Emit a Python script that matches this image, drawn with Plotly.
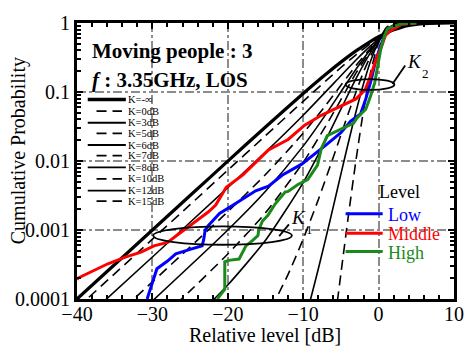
import plotly.graph_objects as go

# ---------------- data ----------------
K_LABELS = ["K=-∞", "K=0dB", "K=3dB", "K=5dB", "K=6dB", "K=7dB", "K=8dB", "K=10dB", "K=12dB", "K=15dB"]

x_k_inf = [-40, -35, -30, -25, -20, -15, -10, -7, -5, -3, -1, 0, 1, 2, 3, 4, 5, 6, 8, 10]
p_k_inf = [1e-4, 3.162e-4, 9.995e-4, 3.157e-3, 9.95e-3, 0.03113, 0.09516, 0.1809, 0.2711, 0.3942,
           0.548, 0.6321, 0.716, 0.795, 0.864, 0.919, 0.9577, 0.9813, 0.9982, 0.99995]

x_k0 = [-40, -30, -25, -20, -15, -10, -5, -3, -1, 0, 2, 4, 6, 8, 10]
p_k0 = [7.36e-5, 7.36e-4, 2.327e-3, 7.36e-3, 0.02325, 0.0733, 0.2264, 0.3465, 0.5103, 0.6057,
        0.7964, 0.9352, 0.991, 0.9997, 0.99999]

x_k3 = [-40, -30, -20, -15, -10, -5, -3, -1, 0, 2, 4, 6, 8]
p_k3 = [4.06e-5, 4.06e-4, 4.12e-3, 0.01343, 0.0461, 0.1718, 0.2911, 0.4735, 0.5852, 0.8102,
        0.9557, 0.9969, 0.99998]

x_k5 = [-40, -30, -20, -15, -10, -7, -5, -3, -1, 0, 2, 4, 6, 8]
p_k5 = [1.762e-5, 1.77e-4, 1.841e-3, 6.36e-3, 0.02528, 0.06448, 0.12495, 0.24154, 0.44196,
        0.57131, 0.8287, 0.9721, 0.999, 0.999997]

x_k6 = [-35, -30, -20, -15, -10, -7, -5, -3, -1, 0, 2, 4, 6]
p_k6 = [2.95e-5, 9.37e-5, 9.99e-4, 3.642e-3, 0.01643, 0.04733, 0.10082, 0.21414, 0.42456,
        0.56532, 0.8416, 0.978, 0.9995]

x_k7 = [-30, -25, -20, -15, -10, -7, -5, -3, -1, 0, 2, 4, 6]
p_k7 = [4.05e-5, 1.313e-4, 4.49e-4, 1.773e-3, 9.566e-3, 0.0323, 0.0775, 0.18792, 0.40583,
        0.55969, 0.853, 0.9851, 0.99987]

x_k8 = [-25, -20, -15, -10, -7, -5, -3, -1, 0, 2, 4, 6]
p_k8 = [4.46e-5, 1.596e-4, 7.09e-4, 4.865e-3, 0.02017, 0.05637, 0.15639, 0.38522, 0.55275,
        0.871, 0.991, 0.99997]

x_k10 = [-20, -15, -12, -10, -8, -6, -4, -2, -1, 0, 1, 2, 3, 4, 5]
p_k10 = [7.8e-6, 5.17e-5, 2.28e-4, 7.40e-4, 2.747e-3, 0.01143, 0.04958, 0.1955, 0.343, 0.542,
         0.7514, 0.9068, 0.9794, 0.9978, 0.99995]

x_k12 = [-10, -9, -8, -7, -6, -5, -4, -3, -2, -1, 0, 1, 2, 3, 4]
p_k12 = [3.98e-5, 1.015e-4, 2.72e-4, 7.62e-4, 2.2e-3, 6.44e-3, 0.0187, 0.0518, 0.132, 0.293,
         0.534, 0.7867, 0.944, 0.9934, 0.99975]

x_k15 = [-6, -5, -4, -3, -2, -1, 0, 1, 2, 3, 4]
p_k15 = [3.2e-5, 2.33e-4, 1.63e-3, 0.0103, 0.054, 0.207, 0.5247, 0.8527, 0.9844, 0.99966, 0.999999]

# measured curves
x_low = [-30.7, -29.4, -28.0, -26.9, -25.0, -23.4, -23.2, -23.0, -22.6, -21.1, -19.6, -18.5,
         -16.3, -14.6, -12.8, -10.2, -8.5, -7.0, -5.0, -4.2, -3.7, -2.4, -1.7, -1.0, -0.4,
         0.3, 0.9, 1.6, 3.0, 5.0]
p_low = [1.0e-4, 2.75e-4, 3.55e-4, 4.5e-4, 5.25e-4, 5.9e-4, 7.24e-4, 1.0e-3, 1.15e-3, 1.74e-3,
         2.19e-3, 2.63e-3, 3.7e-3, 4.3e-3, 6.2e-3, 9.0e-3, 0.0125, 0.017, 0.0257, 0.0324, 0.038,
         0.0479, 0.0794, 0.148, 0.282, 0.479, 0.69, 0.81, 0.955, 1.0]

x_mid = [-40, -39.9, -35.9, -33.5, -31.5, -29.8, -28.0, -26.5, -24.6, -23.5, -22.6, -21.6,
         -20.2, -18.0, -16.3, -14.6, -12.0, -9.8, -7.6, -5.9, -4.2, -3.0, -1.8, -1.0, -0.4,
         0.3, 0.9, 1.6, 3.0, 5.0]
p_mid = [1.9e-4, 2.0e-4, 3.24e-4, 4.07e-4, 4.79e-4, 5.9e-4, 6.6e-4, 8.7e-4, 1.26e-3, 1.5e-3,
         1.82e-3, 2.3e-3, 4.17e-3, 6.3e-3, 9.5e-3, 0.0145, 0.0205, 0.0331, 0.046, 0.0562, 0.07,
         0.0794, 0.107, 0.178, 0.282, 0.427, 0.66, 0.776, 0.955, 1.0]

x_high = [-21.4, -20.4, -20.4, -19.9, -18.5, -18.0, -17.6, -16.7, -16.0, -15.9, -15.4, -14.7,
          -13.7, -12.4, -12.0, -10.7, -9.4, -8.1, -7.6, -6.8, -5.0, -3.3, -2.9, -1.7, -1.1,
          -0.5, -0.1, 0.3, 0.8, 1.2, 3.0, 5.0]
p_high = [1.0e-4, 1.38e-4, 3.47e-4, 3.63e-4, 3.8e-4, 4.79e-4, 5.89e-4, 7.08e-4, 8.32e-4, 1.0e-3,
          1.35e-3, 1.62e-3, 2.4e-3, 3.55e-3, 3.63e-3, 4.57e-3, 5.37e-3, 8.7e-3, 0.0151, 0.0234,
          0.0288, 0.0355, 0.0417, 0.0562, 0.0851, 0.138, 0.245, 0.427, 0.66, 0.83, 0.977, 1.0]

LEVEL_NAMES = ["Low", "Middle", "High"]
X_TICKS = [-40, -30, -20, -10, 0, 10]
Y_TICKS = [1e-4, 1e-3, 1e-2, 1e-1, 1]
Y_TICKTEXT = ["0.0001", "0.001", "0.01", "0.1", "1"]

# ---------------- figure ----------------
FONT = "Liberation Serif"
fig = go.Figure()

theory = [(x_k_inf, p_k_inf), (x_k0, p_k0), (x_k3, p_k3), (x_k5, p_k5), (x_k6, p_k6),
          (x_k7, p_k7), (x_k8, p_k8), (x_k10, p_k10), (x_k12, p_k12), (x_k15, p_k15)]
DASH = "10px,6px"
for i, ((xs, ps), lab) in enumerate(zip(theory, K_LABELS)):
    width = 3.2 if i == 0 else 1.6
    dash = "solid" if i % 2 == 0 else DASH
    fig.add_trace(go.Scatter(x=xs, y=ps, mode="lines", name=lab, showlegend=False,
                             line=dict(color="black", width=width, dash=dash, shape="spline",
                                       smoothing=0.6)))

COLORS = ["#0000ff", "#ff0000", "#1a8a1a"]
for xs, ps, nm, c in zip([x_low, x_mid, x_high], [p_low, p_mid, p_high], LEVEL_NAMES, COLORS):
    fig.add_trace(go.Scatter(x=xs, y=ps, mode="lines", name=nm, showlegend=False,
                             line=dict(color=c, width=3)))

# helpers for paper coordinates (layout only)
L, R, T, B = 77, 463, 14, 299
def px(x):
    return (x - L) / (R - L)
def py(y):
    return (B - y) / (B - T)

shapes = []
annotations = []

def note(x, y, text, size, color="black", xanchor="center", **kw):
    annotations.append(dict(xref="paper", yref="paper", x=px(x), y=py(y), text=text,
                            showarrow=False, xanchor=xanchor, yanchor="middle", borderpad=0,
                            font=dict(family=FONT, size=size, color=color), **kw))

# K legend (drawn manually)
leg_y = [93, 105, 117, 128, 140, 151, 163, 175, 187, 198]
for i, (lab, yy) in enumerate(zip(K_LABELS, leg_y)):
    if i % 2 == 0:
        x0, x1, dash = 88, 127, "solid"
    else:
        x0, x1, dash = 97, 123, DASH
    w = 3.5 if i == 0 else 1.8
    shapes.append(dict(type="line", xref="paper", yref="paper", x0=px(x0), x1=px(x1),
                       y0=py(yy), y1=py(yy), line=dict(color="black", width=w, dash=dash)))
    note(128, yy, lab, 10.5, xanchor="left")

# Level legend
note(385, 189, "Level", 18, xanchor="left")
for nm, c, yy in zip(LEVEL_NAMES, COLORS, [211, 231, 250]):
    shapes.append(dict(type="line", xref="paper", yref="paper", x0=px(352), x1=px(390),
                       y0=py(yy), y1=py(yy), line=dict(color=c, width=3)))
    note(394, yy + 1, nm, 18, color=c, xanchor="left")

# title block
note(91, 43, "<b>Moving people : 3</b>", 21, xanchor="left")
note(91, 73, "<b><i>f</i> : 3.35GHz, LOS</b>", 21, xanchor="left")

# K2 marker
shapes.append(dict(type="circle", xref="paper", yref="paper", x0=px(352), x1=px(402),
                   y0=py(83), y1=py(72), line=dict(color="black", width=1.8)))
shapes.append(dict(type="line", xref="paper", yref="paper", x0=px(400), y0=py(77),
                   x1=px(413), y1=py(58), line=dict(color="black", width=1.8)))
note(423, 54, "<i>K</i>", 19)
note(434, 66, "2", 13)

# K1 marker
shapes.append(dict(type="circle", xref="paper", yref="paper", x0=px(155), x1=px(297),
                   y0=py(243), y1=py(224), line=dict(color="black", width=1.8)))
shapes.append(dict(type="line", xref="paper", yref="paper", x0=px(284), y0=py(234),
                   x1=px(294), y1=py(222), line=dict(color="black", width=1.8)))
note(304, 215, "<i>K</i>", 19)
note(315, 227, "1", 13)

# axis titles
note(269, 336, "Relative level [dB]", 20)
note(17, 146, "Cumulative Probability", 20, textangle=-90)

minor_y = [m * 10 ** e for e in range(-4, 0) for m in range(2, 10)]

fig.update_layout(
    width=476, height=349,
    margin=dict(l=L, r=476 - R, t=T, b=349 - B),
    paper_bgcolor="white", plot_bgcolor="white",
    shapes=shapes, annotations=annotations,
    xaxis=dict(range=[-40, 10], tickvals=X_TICKS, ticks="inside", ticklen=6, tickwidth=2,
               tickcolor="black", showline=True, linewidth=3, linecolor="black",
               mirror="allticks", showgrid=True, gridcolor="#8c8c8c", gridwidth=1.5,
               griddash="dashdot", zeroline=False, ticklabelstandoff=-5,
               tickfont=dict(family=FONT, size=20, color="black"),
               minor=dict(dtick=2, ticks="inside", ticklen=4, tickwidth=1.5, tickcolor="black",
                          showgrid=False)),
    yaxis=dict(type="log", range=[-4, 0], tickvals=Y_TICKS, ticktext=Y_TICKTEXT,
               ticks="inside", ticklen=6, tickwidth=2, tickcolor="black", showline=True,
               linewidth=3, linecolor="black", mirror="allticks", showgrid=True,
               gridcolor="#8c8c8c", gridwidth=1.5, griddash="dashdot", zeroline=False,
               tickfont=dict(family=FONT, size=20, color="black"),
               minor=dict(tickvals=minor_y, ticks="inside", ticklen=4, tickwidth=1.5,
                          tickcolor="black", showgrid=False)),
    showlegend=False,
)

fig.write_html("out.html")
